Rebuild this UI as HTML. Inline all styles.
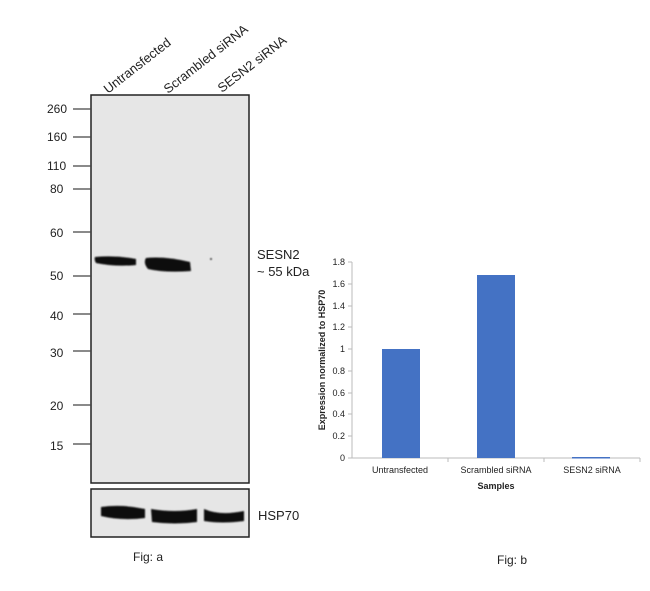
<!DOCTYPE html>
<html><head><style>
body{margin:0;background:#fff;}
svg text{font-family:"Liberation Sans",Arial,sans-serif;fill:#222;}
</style></head><body>
<svg width="650" height="586" viewBox="0 0 650 586" xmlns="http://www.w3.org/2000/svg">
<defs><filter id="b" x="-20%" y="-50%" width="140%" height="200%"><feGaussianBlur stdDeviation="0.7"/></filter></defs>
<!-- lane labels -->
<text transform="translate(108,94) rotate(-38)" font-size="13">Untransfected</text>
<text transform="translate(168,94) rotate(-38)" font-size="13">Scrambled siRNA</text>
<text transform="translate(222,93) rotate(-38)" font-size="13">SESN2 siRNA</text>
<!-- blot -->
<rect x="91" y="95" width="158" height="388" fill="#e6e6e6" stroke="#222" stroke-width="1.5"/>
<g stroke="#444" stroke-width="1.3">
<line x1="73" y1="109" x2="91" y2="109"/><line x1="73" y1="137" x2="91" y2="137"/>
<line x1="73" y1="166" x2="91" y2="166"/><line x1="73" y1="189" x2="91" y2="189"/>
<line x1="73" y1="232" x2="91" y2="232"/><line x1="73" y1="276" x2="91" y2="276"/>
<line x1="73" y1="314" x2="91" y2="314"/><line x1="73" y1="351" x2="91" y2="351"/>
<line x1="73" y1="405" x2="91" y2="405"/><line x1="73" y1="444" x2="91" y2="444"/>
</g>
<g font-size="12">
<text x="47" y="113">260</text><text x="47" y="141">160</text><text x="47" y="170">110</text>
<text x="50" y="193">80</text><text x="50" y="237">60</text><text x="50" y="280">50</text>
<text x="50" y="320">40</text><text x="50" y="357">30</text><text x="50" y="410">20</text><text x="50" y="450">15</text>
</g>
<g fill="#0a0a0a" filter="url(#b)">
<path d="M95,257 Q115,255 136,259 L136,265 Q115,267 96,263 Q94,260 95,257 Z"/>
<path d="M146,258 Q165,256 190,262 L191,271 Q165,273 148,269 Q143,263 146,258 Z"/>
<circle cx="211" cy="259" r="0.9"/>
</g>
<text x="257" y="259" font-size="13">SESN2</text>
<text x="257" y="276" font-size="13">~ 55 kDa</text>
<rect x="91" y="489" width="158" height="48" fill="#e6e6e6" stroke="#222" stroke-width="1.5"/>
<g fill="#0a0a0a" filter="url(#b)">
<path d="M101,507 Q122,504 145,509 L145,518 Q122,521 101,516 Z"/>
<path d="M151,509 Q175,513 197,509 L197,522 Q175,525 152,522 Z"/>
<path d="M204,509 Q220,516 244,511 L244,521 Q222,524 204,521 Z"/>
</g>
<text x="258" y="520" font-size="13">HSP70</text>
<text x="133" y="561" font-size="12">Fig: a</text>
<!-- chart -->
<g stroke="#bbb" stroke-width="1">
<line x1="352" y1="262" x2="352" y2="458"/>
<line x1="352" y1="458" x2="640" y2="458"/>
<line x1="348" y1="262" x2="352" y2="262"/><line x1="348" y1="284" x2="352" y2="284"/>
<line x1="348" y1="306" x2="352" y2="306"/><line x1="348" y1="327" x2="352" y2="327"/>
<line x1="348" y1="349" x2="352" y2="349"/><line x1="348" y1="371" x2="352" y2="371"/>
<line x1="348" y1="393" x2="352" y2="393"/><line x1="348" y1="414" x2="352" y2="414"/>
<line x1="348" y1="436" x2="352" y2="436"/><line x1="348" y1="458" x2="352" y2="458"/>
<line x1="448" y1="458" x2="448" y2="462"/><line x1="544" y1="458" x2="544" y2="462"/><line x1="640" y1="458" x2="640" y2="462"/>
</g>
<g font-size="9" text-anchor="end">
<text x="345" y="265">1.8</text><text x="345" y="287">1.6</text><text x="345" y="309">1.4</text>
<text x="345" y="330">1.2</text><text x="345" y="352">1</text><text x="345" y="374">0.8</text>
<text x="345" y="396">0.6</text><text x="345" y="417">0.4</text><text x="345" y="439">0.2</text><text x="345" y="461">0</text>
</g>
<rect x="382" y="349" width="38" height="109" fill="#4472c4"/>
<rect x="477" y="275" width="38" height="183" fill="#4472c4"/>
<rect x="572" y="457" width="38" height="1.5" fill="#4472c4"/>
<g font-size="9" text-anchor="middle">
<text x="400" y="473">Untransfected</text><text x="496" y="473">Scrambled siRNA</text><text x="592" y="473">SESN2 siRNA</text>
<text x="496" y="489" font-weight="bold">Samples</text>
<text transform="translate(325,360) rotate(-90)" font-weight="bold">Expression normalized to HSP70</text>
</g>
<text x="497" y="564" font-size="12">Fig: b</text>
</svg>
</body></html>
